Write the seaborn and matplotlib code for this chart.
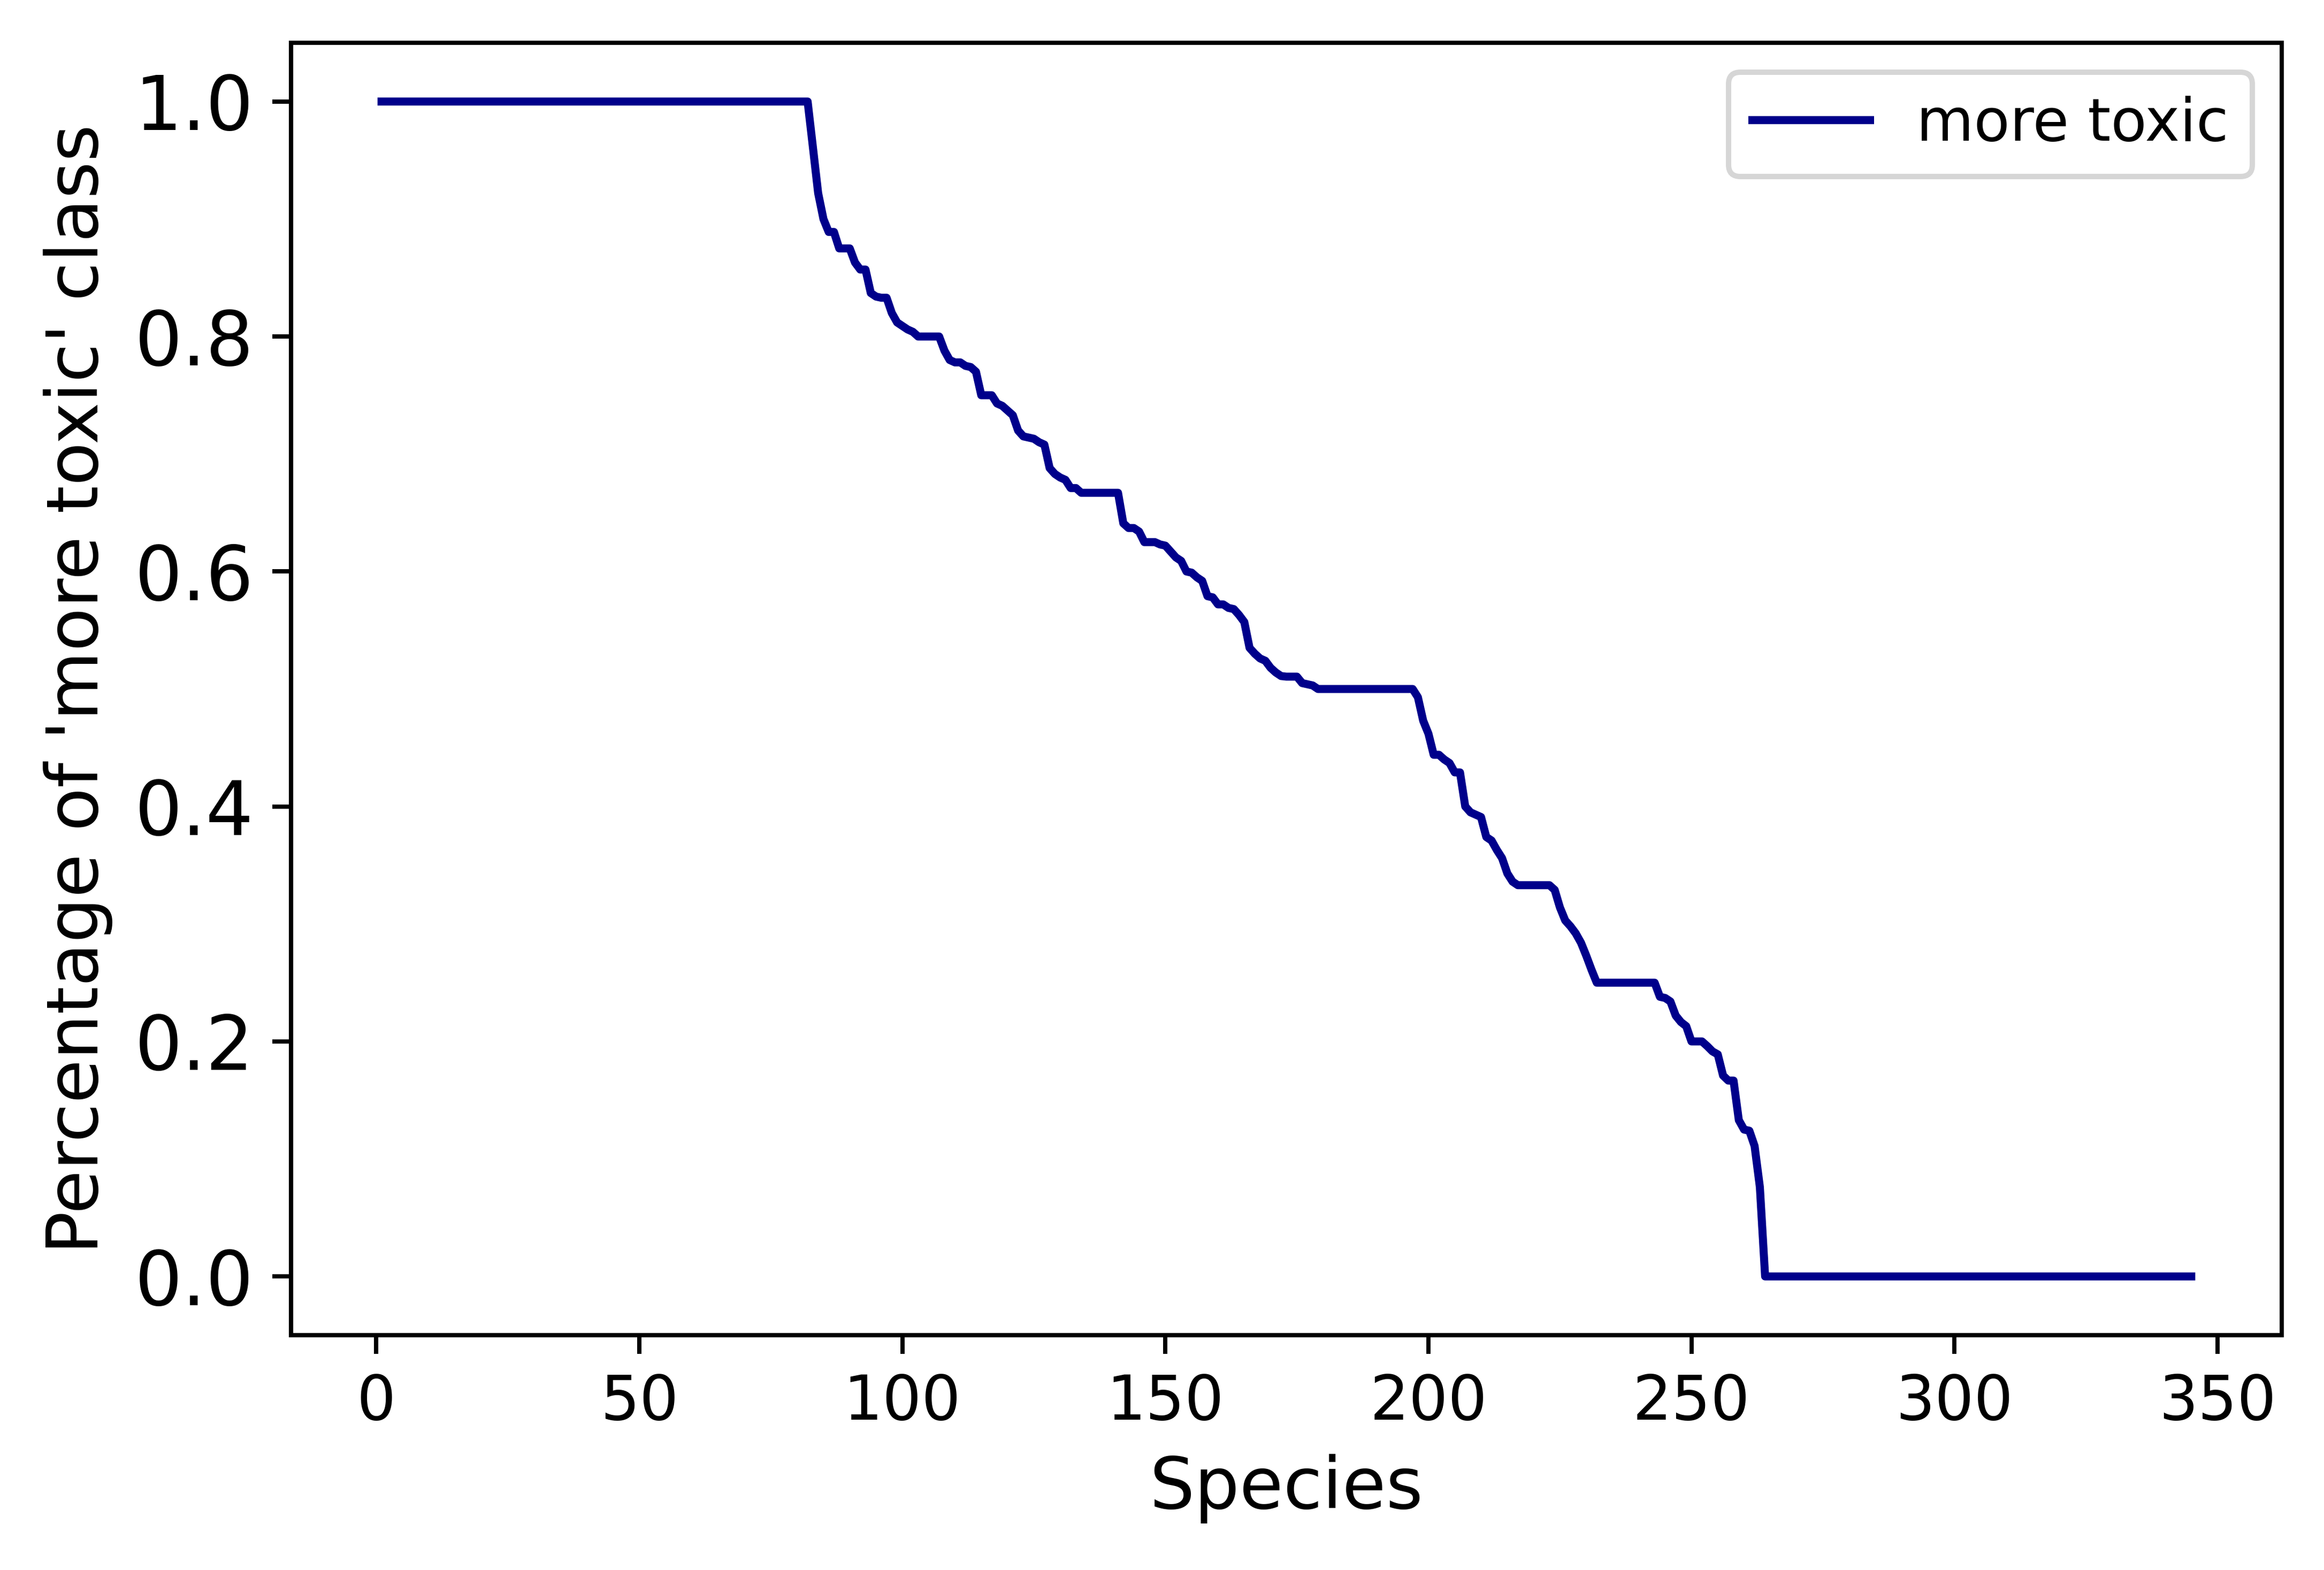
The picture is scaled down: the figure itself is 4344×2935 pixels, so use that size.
import matplotlib
matplotlib.use("Agg")
import matplotlib.pyplot as plt
import seaborn as sns
import pandas as pd

# Vertices of the curve (species index, share of 'more toxic' class)
species = [1, 82, 83, 84, 85, 86, 87, 88, 90, 91, 92, 93, 94, 95, 96, 97, 98, 99,
           100, 101, 102, 103, 107, 108, 109, 110, 111, 112, 113, 114, 115, 117,
           118, 119, 120, 121, 122, 123, 124, 125, 126, 127, 128, 129, 130, 131,
           132, 133, 134, 141, 142, 143, 144, 145, 146, 148, 149, 150, 151, 152,
           153, 154, 155, 156, 157, 158, 159, 160, 161, 162, 163, 164, 165, 166,
           167, 168, 169, 170, 171, 172, 173, 175, 176, 177, 178, 179, 197, 198,
           199, 200, 201, 202, 203, 204, 205, 206, 207, 208, 209, 210, 211, 212,
           213, 214, 215, 216, 217, 223, 224, 225, 226, 227, 228, 229, 230, 231,
           232, 243, 244, 245, 246, 247, 248, 249, 250, 252, 253, 254, 255, 256,
           257, 258, 259, 260, 261, 262, 263, 264, 345]
share = [1.0, 1.0, 0.961, 0.922, 0.900, 0.889, 0.889, 0.875, 0.875, 0.863, 0.857,
         0.857, 0.837, 0.834, 0.833, 0.833, 0.820, 0.812, 0.809, 0.806, 0.804,
         0.800, 0.800, 0.788, 0.780, 0.778, 0.778, 0.775, 0.774, 0.770, 0.750,
         0.750, 0.743, 0.741, 0.737, 0.733, 0.720, 0.715, 0.714, 0.713, 0.710,
         0.708, 0.688, 0.683, 0.680, 0.678, 0.671, 0.671, 0.667, 0.667, 0.641,
         0.637, 0.637, 0.634, 0.625, 0.625, 0.623, 0.622, 0.617, 0.612, 0.609,
         0.600, 0.599, 0.595, 0.592, 0.579, 0.578, 0.572, 0.572, 0.569, 0.568,
         0.563, 0.557, 0.535, 0.530, 0.526, 0.524, 0.518, 0.514, 0.511, 0.5105,
         0.5105, 0.505, 0.504, 0.503, 0.500, 0.500, 0.493, 0.473, 0.462, 0.444,
         0.444, 0.440, 0.437, 0.429, 0.429, 0.400, 0.395, 0.393, 0.391, 0.374,
         0.371, 0.363, 0.356, 0.343, 0.336, 0.333, 0.333, 0.329, 0.314, 0.303,
         0.298, 0.292, 0.284, 0.273, 0.261, 0.250, 0.250, 0.238, 0.237, 0.234,
         0.222, 0.2165, 0.213, 0.200, 0.200, 0.196, 0.1915, 0.189, 0.171, 0.1667,
         0.1667, 0.133, 0.125, 0.124, 0.111, 0.076, 0.0, 0.0]

series_label = "more toxic"
x_label = "Species"
y_label = "Percentage of 'more toxic' class"
x_ticks = [0, 50, 100, 150, 200, 250, 300, 350]
y_ticks = [0.0, 0.2, 0.4, 0.6, 0.8, 1.0]

df = pd.DataFrame({"species": species, "share": share})

DPI = 720
fig = plt.figure(figsize=(4344 / DPI, 2935 / DPI), dpi=DPI)
ax = fig.add_axes([544 / 4344, 1 - 2496 / 2935, (4265 - 544) / 4344, (2496 - 80) / 2935])

sns.lineplot(data=df, x="species", y="share", color="darkblue",
             linewidth=1.5, label=series_label, ax=ax)

ax.set_xticks(x_ticks)
ax.set_yticks(y_ticks)
ax.tick_params(axis="x", labelsize=11.5)
ax.tick_params(axis="y", labelsize=14)
ax.set_xlabel(x_label, fontsize=13.3)
ax.set_ylabel(y_label, fontsize=13.3)
ax.set_xlim(-16.2, 362.2)
ax.set_ylim(-0.05, 1.05)
ax.legend(loc="upper right", fontsize=11)

fig.savefig("out.png", dpi=DPI)
